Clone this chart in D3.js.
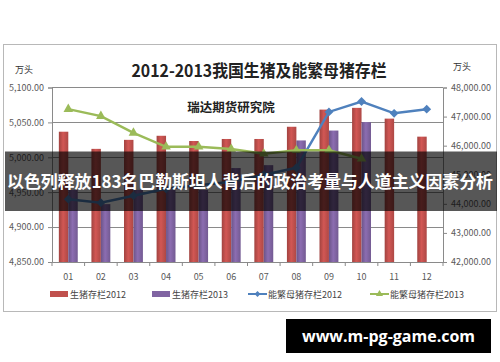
<!DOCTYPE html>
<html><head><meta charset="utf-8">
<script src="https://cdn.jsdelivr.net/npm/d3@7"></script>
<style>
html,body{margin:0;padding:0;background:#fff;}
svg{display:block;}
</style></head>
<body>
<svg id="c" width="500" height="362"></svg>
<script>
const months = ["01","02","03","04","05","06","07","08","09","10","11","12"];
const hogs2012 = [46480, 45890, 46200, 46340, 46160, 46230, 46230, 46650, 47240, 47300, 46930, 46310];
const hogs2013 = [44480, 43990, 44480, 44480, 44480, 45230, 45330, 46180, 46520, 46810];
const sows2012 = [4940, 4935, 4945, 4955, 4960, 4965, 4975, 4985, 5065, 5080, 5063, 5069];
const sows2013 = [5069, 5059, 5035, 5015, 5015, 5012, 5005, 5010, 5010, 4998];
const leftTicks = [4850, 4900, 4950, 5000, 5050, 5100];
const rightTicks = [42000, 43000, 44000, 45000, 46000, 47000, 48000];
const seriesNames = ["生猪存栏2012", "生猪存栏2013", "能繁母猪存栏2012", "能繁母猪存栏2013"];
const titleText = "2012-2013我国生猪及能繁母猪存栏";
const subTitle = "瑞达期货研究院";
const unitText = "万头";
const bannerText = "以色列释放183名巴勒斯坦人背后的政治考量与人道主义因素分析";
const watermark = "www.m-pg-game.com";

const svg = d3.select("#c");
const F = "'Noto Sans CJK SC','Noto Sans',sans-serif";
const RED = "#c0504d", PURPLE = "#8064a2", BLUE = "#4f81bd", GREEN = "#9bbb59";

const defs = svg.append("defs");
function grad(id, c) {
  const g = defs.append("linearGradient").attr("id", id).attr("x1","0").attr("x2","1").attr("y1","0").attr("y2","0");
  const base = d3.color(c);
  g.append("stop").attr("offset","0%").attr("stop-color", base.darker(0.5));
  g.append("stop").attr("offset","45%").attr("stop-color", base.brighter(0.25));
  g.append("stop").attr("offset","100%").attr("stop-color", base.darker(0.3));
}
grad("gr", RED); grad("gp", PURPLE);

// outer frame
svg.append("rect").attr("x",3.5).attr("y",44.5).attr("width",493).attr("height",267)
  .attr("fill","#fff").attr("stroke","#b8b8b8").attr("stroke-width",1);

const m = {l: 52, r: 443, t: 87.5, b: 262};
const x = d3.scaleBand().domain(months).range([m.l, m.r]).padding(0);
const yL = d3.scaleLinear().domain([4850, 5100]).range([m.b, m.t]);
const yR = d3.scaleLinear().domain([42000, 48000]).range([m.b, m.t]);

// gridlines
svg.append("g").selectAll("line").data(leftTicks.slice(1)).join("line")
  .attr("x1", m.l).attr("x2", m.r).attr("y1", d => yL(d)).attr("y2", d => yL(d))
  .attr("stroke", "#8a8a8a").attr("stroke-width", 1).attr("shape-rendering","crispEdges");

// axes
const fmt = d3.format(",.2f");
const gL = svg.append("g").attr("transform", `translate(${m.l},0)`)
  .call(d3.axisLeft(yL).tickValues(leftTicks).tickFormat(fmt).tickSize(4).tickPadding(4));
const gR = svg.append("g").attr("transform", `translate(${m.r},0)`)
  .call(d3.axisRight(yR).tickValues(rightTicks).tickFormat(fmt).tickSize(4).tickPadding(4));
const gX = svg.append("g").attr("transform", `translate(0,${m.b})`)
  .call(d3.axisBottom(x).tickSize(0).tickPadding(12));
svg.append("g").selectAll("line").data(months.concat(["end"])).join("line")
  .attr("x1", (d,i) => m.l + i * x.bandwidth()).attr("x2", (d,i) => m.l + i * x.bandwidth())
  .attr("y1", m.b).attr("y2", m.b + 4).attr("stroke","#8a8a8a");
[gL, gR, gX].forEach(g => {
  g.select(".domain").attr("stroke", "#8a8a8a");
  g.selectAll(".tick line").attr("stroke", "#8a8a8a");
  g.selectAll("text").attr("fill", "#595959").attr("font-family", F).attr("font-size", 9);
});

// bars
const bw = x.bandwidth() * 0.29;
svg.append("g").selectAll("rect").data(hogs2012).join("rect")
  .attr("x", (d,i) => x(months[i]) + x.bandwidth()/2 - bw)
  .attr("y", d => yR(d)).attr("width", bw).attr("height", d => yR(42000) - yR(d))
  .attr("fill", "url(#gr)");
svg.append("g").selectAll("rect").data(hogs2013).join("rect")
  .attr("x", (d,i) => x(months[i]) + x.bandwidth()/2)
  .attr("y", d => yR(d)).attr("width", bw).attr("height", d => yR(42000) - yR(d))
  .attr("fill", "url(#gp)");

// lines
const cx = i => x(months[i]) + x.bandwidth()/2;
const line = d3.line().x((d,i) => cx(i)).y(d => yL(d));
svg.append("path").datum(sows2012).attr("d", line).attr("fill","none").attr("stroke", BLUE).attr("stroke-width", 2.5);
svg.append("g").selectAll("path").data(sows2012).join("path")
  .attr("d", d3.symbol(d3.symbolDiamond2, 50)())
  .attr("transform", (d,i) => `translate(${cx(i)},${yL(d)})`).attr("fill", BLUE);
svg.append("path").datum(sows2013).attr("d", line).attr("fill","none").attr("stroke", GREEN).attr("stroke-width", 2.5);
svg.append("g").selectAll("path").data(sows2013).join("path")
  .attr("d", d3.symbol(d3.symbolTriangle, 40)())
  .attr("transform", (d,i) => `translate(${cx(i)},${yL(d)})`).attr("fill", GREEN);

// titles
svg.append("text").attr("x", 259).attr("y", 77).attr("text-anchor","middle")
  .attr("font-family", F).attr("font-size", 17).attr("font-weight","bold").attr("fill","#222")
  .attr("textLength", 255).attr("lengthAdjust","spacingAndGlyphs").text(titleText);
svg.append("text").attr("x", 231).attr("y", 112).attr("text-anchor","middle")
  .attr("font-family", F).attr("font-size", 12.5).attr("font-weight","bold").attr("fill","#222").text(subTitle);
svg.append("text").attr("x", 24).attr("y", 73).attr("text-anchor","middle")
  .attr("font-family", F).attr("font-size", 9).attr("fill","#333").text(unitText);
svg.append("text").attr("x", 462).attr("y", 70).attr("text-anchor","middle")
  .attr("font-family", F).attr("font-size", 9).attr("fill","#333").text(unitText);

// legend
const legendX = [50, 152, 248, 370];
const lg = svg.append("g").attr("font-family", F).attr("font-size", 9).attr("fill","#444");
seriesNames.forEach((n, i) => {
  const lx = legendX[i], ly = 294;
  if (i < 2) {
    lg.append("rect").attr("x", lx).attr("y", ly - 3).attr("width", 18).attr("height", 6).attr("fill", i === 0 ? RED : PURPLE);
  } else {
    const c = i === 2 ? BLUE : GREEN;
    lg.append("line").attr("x1", lx).attr("x2", lx + 19).attr("y1", ly).attr("y2", ly).attr("stroke", c).attr("stroke-width", 2);
    lg.append("path").attr("d", d3.symbol(i === 2 ? d3.symbolDiamond2 : d3.symbolTriangle, 22)()).attr("transform", `translate(${lx+9.5},${ly})`).attr("fill", c);
  }
  lg.append("text").attr("x", lx + 20).attr("y", ly + 3.5).text(n);
});

// banner overlay
svg.append("rect").attr("x", 5).attr("y", 151.5).attr("width", 492).attr("height", 59.5).attr("fill", "rgba(0,0,0,0.66)");
svg.append("text").attr("x", 250).attr("y", 187.5).attr("text-anchor","middle")
  .attr("font-family", F).attr("font-size", 17).attr("font-weight","bold").attr("fill","#fff")
  .attr("textLength", 486).attr("lengthAdjust","spacingAndGlyphs").text(bannerText);

// watermark
svg.append("rect").attr("x", 286).attr("y", 319).attr("width", 205).attr("height", 34).attr("fill", "#000");
svg.append("text").attr("x", 388.5).attr("y", 341.5).attr("text-anchor","middle")
  .attr("font-family", "'Open Sans','DejaVu Sans',sans-serif").attr("font-size", 16).attr("font-weight","bold").attr("fill","#fff")
  .text(watermark);
</script>
</body></html>
